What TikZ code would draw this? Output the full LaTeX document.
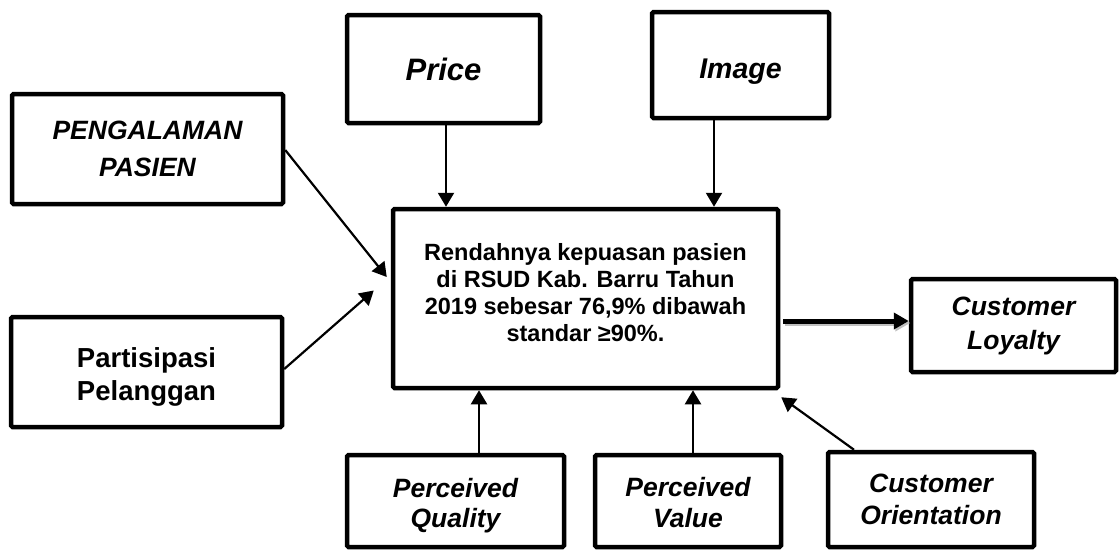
\documentclass[tikz,border=0pt]{standalone}
\usepackage{fontspec}
\setmainfont{Liberation Sans}
\usetikzlibrary{arrows.meta,calc}
\begin{document}
\begin{tikzpicture}[x=1pt,y=-1pt,
  box/.style={draw, line width=4.5pt, rounded corners=1.5pt, align=center, inner sep=0pt, fill=white},
  inbox/.style={align=center, inner sep=0pt},
  lab/.style={font=\bfseries\itshape\fontsize{26.5}{33}\selectfont},
  arr/.style={-{Triangle[length=14pt,width=16pt]}, line width=2.2pt},
  thickarr/.style={-{Triangle[length=15pt,width=16pt]}, line width=5pt,
    preaction={draw=black!25, line width=5pt, -{Triangle[length=15pt,width=16pt]}, transform canvas={shift={(1.5pt,-2pt)}}}},
]
\useasboundingbox (0,0) rectangle (1119,550);

\node[box, lab, font=\bfseries\itshape\fontsize{31}{36}\selectfont, minimum width=193pt, minimum height=108pt] (price) at (443.5,69) {Price};
\node[box, minimum width=177pt, minimum height=106pt,
  label={[inbox, name=imagetext, font=\bfseries\itshape\fontsize{28.5}{34}\selectfont, yshift=-7pt]center:Image}] (image) at (740.5,65) {};
\node[box, lab, font=\bfseries\itshape\fontsize{26.5}{37}\selectfont, minimum width=271pt, minimum height=110pt] (peng) at (147.5,149) {PENGALAMAN\\PASIEN};
\node[box, minimum width=271pt, minimum height=110pt,
  label={[inbox, name=parttext, font=\bfseries\fontsize{27.5}{32.5}\selectfont, yshift=-5pt]center:Partisipasi\\Pelanggan}] (part) at (146.5,372) {};
\node[box, minimum width=385pt, minimum height=179pt,
  label={[inbox, name=centraltext, font=\bfseries\fontsize{23.5}{27}\selectfont, yshift=5.5pt]center:Rendahnya kepuasan pasien\\di RSUD Kab. Barru Tahun\\2019 sebesar 76,9\% dibawah\\standar ≥90\%.}] (central) at (585.5,298.5) {};
\node[box, lab, font=\bfseries\itshape\fontsize{26.5}{34}\selectfont, minimum width=205pt, minimum height=93pt] (loyal) at (1013.5,325.5) {Customer\\Loyalty};
\node[box, minimum width=217pt, minimum height=92pt,
  label={[inbox, name=pqtext, lab, font=\bfseries\itshape\fontsize{26.5}{30}\selectfont, yshift=-4.5pt]center:Perceived\\Quality}] (pq) at (455.5,501) {};
\node[box, minimum width=186pt, minimum height=92pt,
  label={[inbox, name=pvtext, lab, font=\bfseries\itshape\fontsize{26.5}{31}\selectfont, yshift=-2pt]center:Perceived\\Value}] (pv) at (688,501) {};
\node[box, lab, font=\bfseries\itshape\fontsize{26.5}{32}\selectfont, minimum width=206pt, minimum height=95pt] (co) at (931,499.5) {Customer\\Orientation};

% connectors
\draw[arr] ([xshift=2.5pt]price.south) -- ([xshift=2.5pt]price.south |- central.north);
\draw[arr] ([xshift=-26.5pt]image.south) -- ([xshift=-26.5pt]image.south |- central.north);
\draw[arr] ([yshift=-1pt]peng.east) -- ($(central.west)+(-4,-21.5)$);
\draw[arr] ([yshift=3pt]part.east) -- ($(central.west)+(-17,-8)$);
\draw[arr] ([xshift=23.5pt]pq.north) -- ([xshift=23.5pt]pq.north |- central.south);
\draw[arr] ([xshift=5pt]pv.north) -- ([xshift=5pt]pv.north |- central.south);
\draw[arr] ([xshift=-77pt]co.north) -- ($(central.south east)+(1,7)$);
\coordinate (tstart) at ($(central.east)+(3,22.5)$);
\draw[thickarr] (tstart) -- (tstart -| loyal.west);
\end{tikzpicture}
\end{document}
